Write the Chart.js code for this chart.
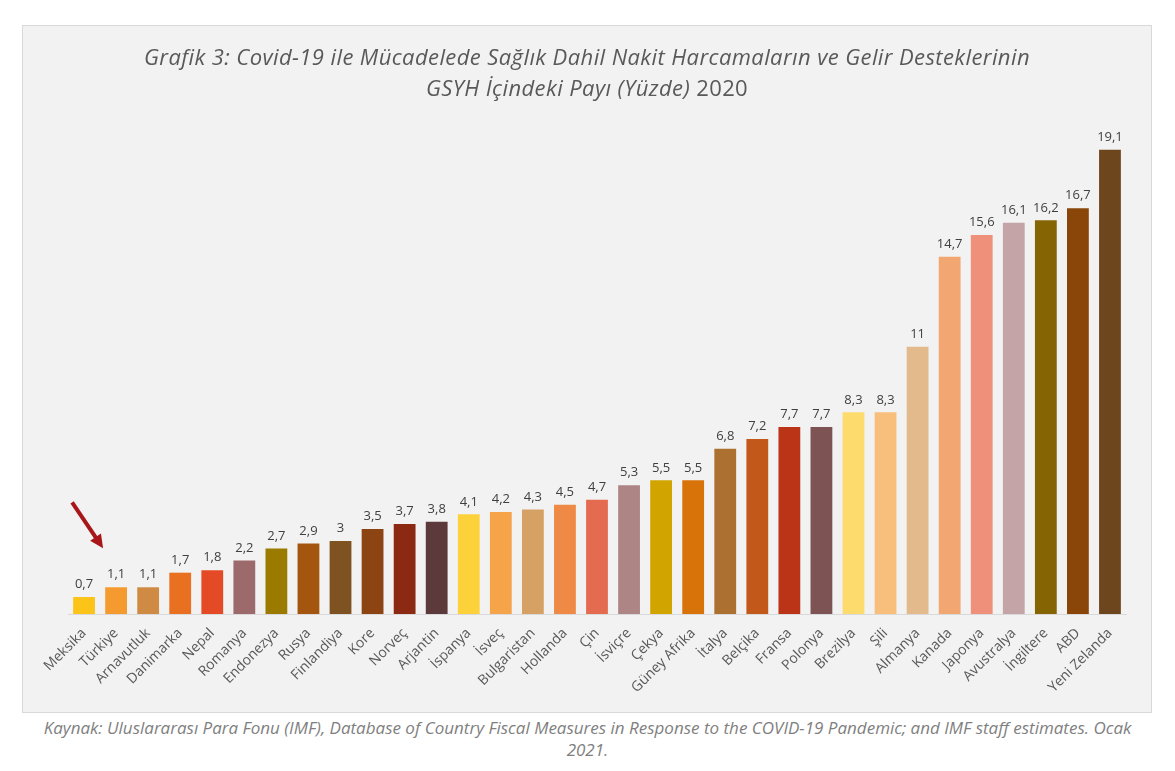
<!DOCTYPE html>
<html>
<head>
<meta charset="utf-8">
<script src="https://cdn.jsdelivr.net/npm/chart.js@4.4.0/dist/chart.umd.min.js"></script>
<style>
  body { margin: 0; background: #fff; width: 1175px; height: 771px; position: relative; overflow: hidden; }
  #panel { position: absolute; left: 22px; top: 25px; width: 1128px; height: 686px; background: #f2f2f2; border: 1px solid #d9d9d9; }
  #chartBox { position: absolute; left: 0; top: 0; width: 1128px; height: 686px; }
  #title { position: absolute; left: 0; top: 15px; width: 1128px; text-align: center; font-family: 'Open Sans', sans-serif; font-size: 22px; line-height: 31px; color: #595959; font-style: italic; letter-spacing: 0.4px; }
  #title .up { font-style: normal; }
  #source { position: absolute; left: 0; top: 717px; width: 1175px; text-align: center; font-family: 'Open Sans', sans-serif; font-style: italic; font-size: 17px; line-height: 22px; color: #7f7f7f; }
</style>
</head>
<body>
<div id="panel">
  <div id="chartBox"><canvas id="fiscalChart"></canvas></div>
  <div id="title">Grafik 3: Covid-19 ile Mücadelede Sağlık Dahil Nakit Harcamaların ve Gelir Desteklerinin<br>GSYH İçindeki Payı (Yüzde) <span class="up">2020</span></div>
</div>
<div id="source">Kaynak: Uluslararası Para Fonu (IMF), Database of Country Fiscal Measures in Response to the COVID-19 Pandemic; and IMF staff estimates. Ocak<br>2021.</div>

<script>
// countries, ordered as in the chart
const countries = ['Meksika', 'Türkiye', 'Arnavutluk', 'Danimarka', 'Nepal', 'Romanya', 'Endonezya', 'Rusya', 'Finlandiya', 'Kore', 'Norveç', 'Arjantin',
  'İspanya', 'İsveç', 'Bulgaristan', 'Hollanda', 'Çin', 'İsviçre', 'Çekya', 'Güney Afrika', 'İtalya', 'Belçika', 'Fransa', 'Polonya',
  'Brezilya', 'Şili', 'Almanya', 'Kanada', 'Japonya', 'Avustralya', 'İngiltere', 'ABD', 'Yeni Zelanda']

// share of GDP, percent
const shareOfGdp = [0.7, 1.1, 1.1, 1.7, 1.8, 2.2, 2.7, 2.9, 3, 3.5, 3.7, 3.8,
  4.1, 4.2, 4.3, 4.5, 4.7, 5.3, 5.5, 5.5, 6.8, 7.2, 7.7, 7.7,
  8.3, 8.3, 11, 14.7, 15.6, 16.1, 16.2, 16.7, 19.1]

const barColors = ['#fcc418', '#f59a2e', '#cf8b44', '#e87020', '#e54a26', '#9c6a6a', '#9b7a00', '#a4560f', '#7e5321', '#8c4512', '#8c2912', '#5c3a3c',
  '#fdd13a', '#f6a44a', '#d6a164', '#ee8a45', '#e56b50', '#ae8585', '#d2a400', '#d8730a', '#ac7030', '#c2581a', '#bc3417', '#7e5353',
  '#fddb6d', '#f8be7c', '#e2ba8c', '#f2a772', '#ee907a', '#c4a4a6', '#856404', '#8a4608', '#6d461e']

const highlighted = 'Türkiye'

// writes the value above every bar, with a decimal comma
const valueLabels = {
  id: 'valueLabels',
  afterDatasetsDraw(chart) {
    const ctx = chart.ctx
    const meta = chart.getDatasetMeta(0)
    ctx.save()
    ctx.font = '13px "Open Sans", sans-serif'
    ctx.fillStyle = '#404040'
    ctx.textAlign = 'center'
    ctx.textBaseline = 'bottom'
    meta.data.forEach((bar, i) => {
      ctx.fillText(String(shareOfGdp[i]).replace('.', ','), bar.x, bar.y - 6)
    })
    ctx.restore()
  }
}

// red arrow pointing at Türkiye
const pointerArrow = {
  id: 'pointerArrow',
  afterDatasetsDraw(chart) {
    const ctx = chart.ctx
    const i = countries.indexOf(highlighted)
    const bar = chart.getDatasetMeta(0).data[i]
    const tipX = bar.x - 13
    const tipY = bar.y - 39
    const tailX = tipX - 31
    const tailY = tipY - 46
    const ang = Math.atan2(tipY - tailY, tipX - tailX)
    const headLen = 15
    ctx.save()
    ctx.strokeStyle = '#a8161a'
    ctx.fillStyle = '#a8161a'
    ctx.lineWidth = 4
    ctx.beginPath()
    ctx.moveTo(tailX, tailY)
    ctx.lineTo(tipX - Math.cos(ang) * headLen * 0.8, tipY - Math.sin(ang) * headLen * 0.8)
    ctx.stroke()
    ctx.beginPath()
    ctx.moveTo(tipX, tipY)
    ctx.lineTo(tipX - headLen * Math.cos(ang - 0.45), tipY - headLen * Math.sin(ang - 0.45))
    ctx.lineTo(tipX - headLen * Math.cos(ang + 0.45), tipY - headLen * Math.sin(ang + 0.45))
    ctx.closePath()
    ctx.fill()
    ctx.restore()
  }
}

new Chart(document.getElementById('fiscalChart'), {
  type: 'bar',
  data: {
    labels: countries,
    datasets: [{
      data: shareOfGdp,
      backgroundColor: barColors,
      barPercentage: 0.68,
      categoryPercentage: 1
    }]
  },
  options: {
    responsive: true,
    maintainAspectRatio: false,
    animation: false,
    layout: { padding: { left: 45, right: 25, top: 102, bottom: 0 } },
    plugins: {
      legend: { display: false },
      tooltip: { enabled: false }
    },
    scales: {
      x: {
        grid: { display: false },
        border: { display: true, color: '#d9d9d9', width: 1 },
        ticks: {
          color: '#595959',
          font: { family: 'Open Sans', size: 14 },
          minRotation: 45,
          maxRotation: 45,
          autoSkip: false,
          padding: 3
        },
        afterFit(scale) { scale.height = 98 }
      },
      y: {
        display: false,
        min: 0,
        max: 20
      }
    }
  },
  plugins: [valueLabels, pointerArrow]
});
</script>
</body>
</html>
